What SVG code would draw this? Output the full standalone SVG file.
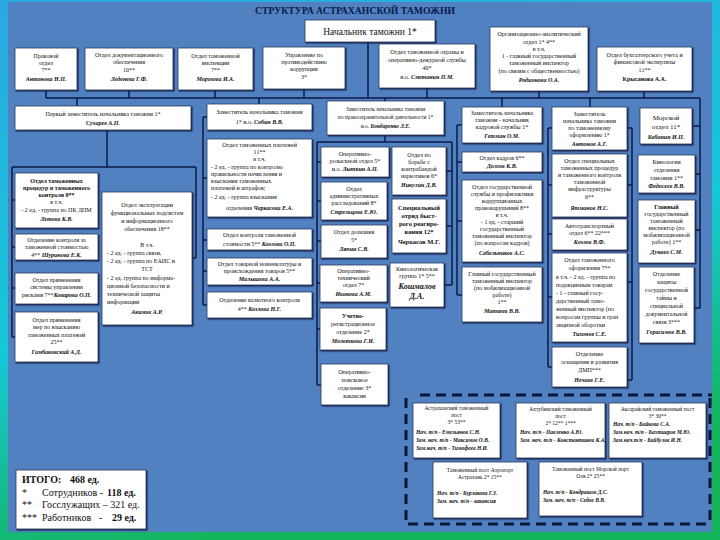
<svg xmlns="http://www.w3.org/2000/svg" width="720" height="540" viewBox="0 0 720 540">
<defs>
<linearGradient id="bg" x1="0" y1="0" x2="0.3" y2="1">
<stop offset="0" stop-color="#2aa8e0"/><stop offset="0.6" stop-color="#16c8d8"/><stop offset="1" stop-color="#14b45a"/>
</linearGradient>
<filter id="sh" x="-5%" y="-5%" width="115%" height="115%"><feDropShadow dx="1.2" dy="1.2" stdDeviation="0.4" flood-color="#0d1a45" flood-opacity="0.9"/></filter>
<style>
.b{fill:#fff;stroke:#26365e;stroke-width:0.8;filter:url(#sh)}
.t{font-family:"Liberation Serif","Times New Roman",serif;font-size:6px;fill:#111;text-anchor:middle}
.n{font-style:italic;font-weight:bold}
.l{text-anchor:start}
.s{font-size:5.5px}
.c{fill:none;stroke:#0d1a45;stroke-width:1.5}
.d{fill:none;stroke:#0a1638;stroke-width:3;stroke-dasharray:10 6}
</style>
</defs>
<rect x="0" y="0" width="720" height="540" fill="url(#bg)"/>
<rect x="8" y="2" width="704" height="530" fill="#5181c1"/>
<text x="355" y="14" font-family="'Liberation Serif',serif" font-size="10.5" font-weight="bold" fill="#0a1a4a" text-anchor="middle" textLength="200" lengthAdjust="spacingAndGlyphs">СТРУКТУРА АСТРАХАНСКОЙ ТАМОЖНИ</text>

<g id="connectors">
<path class="c" d="M368,42V98M46,98H700M46,90V98M129,90V98M215,90V98M304,89V98M427,88V98M539,91V98M644,91V98"/>
<path class="c" d="M77,98V106M259,98V104M385,98V101M502,98V107M590,98V107M700,98V308M692,126H700M695,174H700M695,230H700M694,308H700"/>
<path class="c" d="M107,130V167M12,167H196M12,167V337M12,200H15M12,247H15M12,288H15M12,337H15M196,167V258M192,258H196"/>
<path class="c" d="M203,117V305M203,117H207M203,178H207M203,240H207M203,271H207M203,305H207"/>
<path class="c" d="M385,135V142M317,142H452M317,142V385M317,162H321M317,201H321M317,241H321M317,283H320M317,329H320M317,385H321M452,142V285M446,171H452M446,226H452M444,285H452"/>
<path class="c" d="M457,125V295M457,125H462M457,162H462M457,221H462M457,295H462"/>
<path class="c" d="M548,128V367M548,128H552M548,185H552M548,234H552M548,297H552M548,367H552M632,128V380M627,128H632M627,185H632M627,282H632M627,380H632"/>
<path class="d" d="M420,395H712M406,398V524H707M710,398V524"/>
</g>

<g id="n0"><rect class="b" x="305" y="20" width="130" height="22"/><text class="t" x="370" y="35" style="font-size:9.5px">Начальник таможни  1*</text></g>

<g id="n1"><rect class="b" x="15" y="48" width="62" height="42"/><text class="t"><tspan x="46" y="58">Правовой</tspan><tspan x="46" y="65">отдел</tspan><tspan x="46" y="72">7**</tspan><tspan x="46" y="81" class="n">Антонова Н.П.</tspan></text></g>
<g id="n2"><rect class="b" x="85" y="48" width="88" height="42"/><text class="t"><tspan x="129" y="57">Отдел документационного</tspan><tspan x="129" y="64">обеспечения</tspan><tspan x="129" y="72">10**</tspan><tspan x="129" y="81" class="n">Леденева Г.Ф.</tspan></text></g>
<g id="n3"><rect class="b" x="178" y="48" width="75" height="42"/><text class="t"><tspan x="215.5" y="58">Отдел таможенной</tspan><tspan x="215.5" y="65">инспекции</tspan><tspan x="215.5" y="72">7**</tspan><tspan x="215.5" y="81" class="n">Морозова И.А.</tspan></text></g>
<g id="n4"><rect class="b" x="263" y="47" width="82" height="42"/><text class="t"><tspan x="304" y="57">Управление по</tspan><tspan x="304" y="64">противодействию</tspan><tspan x="304" y="71">коррупции</tspan><tspan x="304" y="79">3*</tspan></text></g>
<g id="n5"><rect class="b" x="379" y="44" width="96" height="44"/><text class="t"><tspan x="427" y="54">Отдел таможенной охраны и</tspan><tspan x="427" y="62">оперативно-дежурной службы</tspan><tspan x="427" y="70">40*</tspan><tspan x="427" y="79">и.о. <tspan class="n">Сметанин П.М.</tspan></tspan></text></g>
<g id="n6"><rect class="b" x="490" y="27" width="98" height="64"/><text class="t"><tspan x="539" y="36">Организационно-аналитический</tspan><tspan x="539" y="44">отдел  1* 4**</tspan><tspan x="539" y="51">в т.ч.</tspan><tspan x="539" y="58">1 - главный государственный</tspan><tspan x="539" y="65">таможенный инспектор</tspan><tspan x="539" y="73">(по связям с общественностью)</tspan><tspan x="539" y="82" class="n">Родионова О.А.</tspan></text></g>
<g id="n7"><rect class="b" x="597" y="47" width="95" height="44"/><text class="t"><tspan x="644.5" y="57">Отдел бухгалтерского учета и</tspan><tspan x="644.5" y="64">финансовой экспертизы</tspan><tspan x="644.5" y="72">11**</tspan><tspan x="644.5" y="81" style="font-weight:bold">Крысанова А.А.</tspan></text></g>

<g id="n8"><rect class="b" x="15" y="106" width="176" height="24"/><text class="t"><tspan x="103" y="116">Первый заместитель начальника таможни  1*</tspan><tspan x="103" y="125" class="n">Сухарев А.П.</tspan></text></g>
<g id="n9"><rect class="b" x="207" y="104" width="105" height="26"/><text class="t"><tspan x="259.5" y="114">Заместитель начальника таможни</tspan><tspan x="259.5" y="124">1*  и.о. <tspan class="n">Собин В.В.</tspan></tspan></text></g>
<g id="n10"><rect class="b" x="327" y="101" width="117" height="34"/><text class="t s"><tspan x="385.5" y="111">Заместитель начальника таможни</tspan><tspan x="385.5" y="119">по правоохранительной деятельности 1*</tspan><tspan x="385.5" y="128">и.о. <tspan class="n">Бондаренко Л.Е.</tspan></tspan></text></g>
<g id="n11"><rect class="b" x="462" y="107" width="80" height="36"/><text class="t"><tspan x="502" y="115">Заместитель начальника</tspan><tspan x="502" y="122">таможни - начальник</tspan><tspan x="502" y="129">кадровой службы  1*</tspan><tspan x="502" y="138" class="n">Гетман О.М.</tspan></text></g>
<g id="n12"><rect class="b" x="552" y="107" width="75" height="43"/><text class="t"><tspan x="589.5" y="116">Заместитель</tspan><tspan x="589.5" y="123">начальника таможни</tspan><tspan x="589.5" y="130">по таможенному</tspan><tspan x="589.5" y="137">оформлению  1*</tspan><tspan x="589.5" y="146" class="n">Антонов А.Г.</tspan></text></g>
<g id="n13"><rect class="b" x="640" y="108" width="52" height="36"/><text class="t" style="font-size:7px"><tspan x="666" y="120">Морской</tspan><tspan x="666" y="129">отдел  11*</tspan><tspan x="666" y="139" class="n" style="font-size:6px">Бабанин И.П.</tspan></text></g>

<g id="n14"><rect class="b" x="15" y="173" width="83" height="55"/><text class="t"><tspan x="56.5" y="183" style="font-weight:bold">Отдел таможенных</tspan><tspan x="56.5" y="190" style="font-weight:bold">процедур и таможенного</tspan><tspan x="56.5" y="197" style="font-weight:bold">контроля  8**</tspan><tspan x="56.5" y="204">в т.ч.</tspan><tspan x="56.5" y="212">- 2 ед. - группа по ПК ДПМ</tspan><tspan x="56.5" y="221" class="n">Летова К.В.</tspan></text></g>
<g id="n15"><rect class="b" x="15" y="234" width="83" height="26"/><text class="t"><tspan x="56.5" y="242">Отделение контроля за</tspan><tspan x="56.5" y="249">таможенной стоимостью</tspan><tspan x="56.5" y="257">4** <tspan class="n">Шуринова Е.К.</tspan></tspan></text></g>
<g id="n16"><rect class="b" x="15" y="273" width="83" height="31"/><text class="t"><tspan x="56.5" y="282">Отдел применения</tspan><tspan x="56.5" y="289">системы управления</tspan><tspan x="56.5" y="297">рисками  7**<tspan class="n">Коварова О.П.</tspan></tspan></text></g>
<g id="n17"><rect class="b" x="15" y="312" width="83" height="50"/><text class="t"><tspan x="56.5" y="322">Отдел применения</tspan><tspan x="56.5" y="329">мер по взысканию</tspan><tspan x="56.5" y="337">таможенных платежей</tspan><tspan x="56.5" y="344">25**</tspan><tspan x="56.5" y="354" class="n">Гамбаковский А.Д.</tspan></text></g>
<g id="n18"><rect class="b" x="102" y="192" width="90" height="133"/><text class="t"><tspan x="147" y="207">Отдел эксплуатации</tspan><tspan x="147" y="215">функциональных подсистем</tspan><tspan x="147" y="223">и информационного</tspan><tspan x="147" y="231">обеспечения  18**</tspan><tspan x="147" y="247">В т.ч.</tspan><tspan x="107" y="255" class="l">- 2 ед. - группа связи,</tspan><tspan x="107" y="263" class="l">- 2 ед. - группа по ЕАИС и</tspan><tspan x="147" y="271">ТСТ</tspan><tspan x="107" y="280" class="l">- 2 ед. группа по информа-</tspan><tspan x="107" y="288" class="l">ционной безопасности  и</tspan><tspan x="107" y="296" class="l">технической защиты</tspan><tspan x="107" y="304" class="l">информации</tspan><tspan x="147" y="314" class="n">Акимов А.Р.</tspan></text></g>

<g id="n19"><rect class="b" x="207" y="139" width="105" height="78"/><text class="t"><tspan x="259.5" y="147">Отдел таможенных платежей</tspan><tspan x="259.5" y="154">11**</tspan><tspan x="259.5" y="161">в т.ч.</tspan><tspan x="211" y="169" class="l">- 2 ед. - группа по контролю</tspan><tspan x="211" y="176" class="l">правильности начисления и</tspan><tspan x="211" y="183" class="l">взыскания таможенных</tspan><tspan x="211" y="190" class="l">платежей и штрафов;</tspan><tspan x="211" y="199" class="l">- 2 ед. - группа взыскания</tspan><tspan x="259.5" y="210">отделения     <tspan class="n">Черкасова Е.А.</tspan></tspan></text></g>
<g id="n20"><rect class="b" x="207" y="229" width="105" height="21"/><text class="t"><tspan x="259.5" y="237">Отдел контроля таможенной</tspan><tspan x="259.5" y="246">стоимости 5** <tspan class="n">Козлова О.П.</tspan></tspan></text></g>
<g id="n21"><rect class="b" x="207" y="258" width="105" height="27"/><text class="t"><tspan x="259.5" y="266">Отдел товарной номенклатуры и</tspan><tspan x="259.5" y="273">происхождения товаров 5**</tspan><tspan x="259.5" y="281" class="n">Малышева А.А.</tspan></text></g>
<g id="n22"><rect class="b" x="207" y="292" width="105" height="26"/><text class="t"><tspan x="259.5" y="302">Отделение валютного контроля</tspan><tspan x="259.5" y="311">4** <tspan class="n">Козлова Н.Г.</tspan></tspan></text></g>

<g id="n23"><rect class="b" x="321" y="147" width="68" height="30"/><text class="t"><tspan x="355" y="156">Оперативно-</tspan><tspan x="355" y="163">розыскной отдел 5*</tspan><tspan x="355" y="171">и.о. <tspan class="n">Лыткин А.П.</tspan></tspan></text></g>
<g id="n24"><rect class="b" x="392" y="147" width="54" height="48"/><text class="t"><tspan x="419" y="157">Отдел по</tspan><tspan x="419" y="164">борьбе с</tspan><tspan x="419" y="171">контрабандой</tspan><tspan x="419" y="178">наркотиков  6*</tspan><tspan x="419" y="187" class="n">Никулин Д.В.</tspan></text></g>
<g id="n25"><rect class="b" x="321" y="182" width="66" height="38"/><text class="t"><tspan x="354" y="191">Отдел</tspan><tspan x="354" y="198">административных</tspan><tspan x="354" y="205">расследований  8*</tspan><tspan x="354" y="214" class="n">Стрельцова Е.Ю.</tspan></text></g>
<g id="n26"><rect class="b" x="321" y="225" width="66" height="33"/><text class="t"><tspan x="354" y="234">Отдел дознания</tspan><tspan x="354" y="242">5*</tspan><tspan x="354" y="251" class="n">Ляпин С.В.</tspan></text></g>
<g id="n27"><rect class="b" x="392" y="199" width="54" height="54"/><text class="t" style="font-size:6.5px;font-weight:bold"><tspan x="419" y="210">Специальный</tspan><tspan x="419" y="218">отряд быст-</tspan><tspan x="419" y="226">рого реагиро-</tspan><tspan x="419" y="234">вания  12*</tspan><tspan x="419" y="244">Черкасов М.Г.</tspan></text></g>
<g id="n28"><rect class="b" x="320" y="265" width="67" height="37"/><text class="t"><tspan x="353.5" y="273">Оперативно-</tspan><tspan x="353.5" y="280">технический</tspan><tspan x="353.5" y="287">отдел  7*</tspan><tspan x="353.5" y="296" class="n">Иванова А.М.</tspan></text></g>
<g id="n29"><rect class="b" x="390" y="263" width="54" height="44"/><text class="t"><tspan x="417" y="271">Кинологическая</tspan><tspan x="417" y="278">группа 1* 5**</tspan><tspan x="417" y="289" class="n" style="font-size:8px">Кошмалов</tspan><tspan x="417" y="299" class="n" style="font-size:8px">Д.А.</tspan></text></g>
<g id="n30"><rect class="b" x="320" y="308" width="66" height="42"/><text class="t"><tspan x="353" y="318" style="font-weight:bold">Учетно-</tspan><tspan x="353" y="326">регистрационное</tspan><tspan x="353" y="334">отделение  2*</tspan><tspan x="353" y="343" class="n">Молоткова Г.И.</tspan></text></g>
<g id="n31"><rect class="b" x="321" y="364" width="67" height="41"/><text class="t"><tspan x="354.5" y="374">Оперативно-</tspan><tspan x="354.5" y="382">поисковое</tspan><tspan x="354.5" y="390">отделение  3*</tspan><tspan x="354.5" y="398">вакансия</tspan></text></g>

<g id="n32"><rect class="b" x="462" y="152" width="80" height="20"/><text class="t"><tspan x="502" y="160">Отдел кадров  6**</tspan><tspan x="502" y="168" class="n">Долгов К.В.</tspan></text></g>
<g id="n33"><rect class="b" x="462" y="180" width="80" height="82"/><text class="t"><tspan x="502" y="189">Отдел государственной</tspan><tspan x="502" y="196">службы и профилактики</tspan><tspan x="502" y="203">коррупционных</tspan><tspan x="502" y="210">правонарушений  8**</tspan><tspan x="502" y="217">в т.ч.</tspan><tspan x="502" y="224">- 1 ед. - старший</tspan><tspan x="502" y="231">государственный</tspan><tspan x="502" y="238">таможенный инспектор</tspan><tspan x="502" y="245">(по вопросам кадров)</tspan><tspan x="502" y="255" class="n">Сабельников А.С.</tspan></text></g>
<g id="n34"><rect class="b" x="462" y="267" width="80" height="55"/><text class="t"><tspan x="502" y="276">Главный государственный</tspan><tspan x="502" y="283">таможенный инспектор</tspan><tspan x="502" y="290">(по мобилизационной</tspan><tspan x="502" y="297">работе)</tspan><tspan x="502" y="304">1**</tspan><tspan x="502" y="313" class="n">Матвеев В.В.</tspan></text></g>

<g id="n35"><rect class="b" x="552" y="154" width="75" height="63"/><text class="t"><tspan x="589.5" y="163">Отдел специальных</tspan><tspan x="589.5" y="170">таможенных процедур</tspan><tspan x="589.5" y="177">и таможенного контроля</tspan><tspan x="589.5" y="184">таможенной</tspan><tspan x="589.5" y="191">инфраструктуры</tspan><tspan x="589.5" y="199">6**</tspan><tspan x="589.5" y="210" class="n">Ятманов Н.С.</tspan></text></g>
<g id="n36"><rect class="b" x="552" y="219" width="75" height="31"/><text class="t"><tspan x="589.5" y="228">Автотранспортный</tspan><tspan x="589.5" y="235">отдел  6** 22***</tspan><tspan x="589.5" y="244" class="n">Козлов В.Ф.</tspan></text></g>
<g id="n37"><rect class="b" x="552" y="253" width="75" height="89"/><text class="t"><tspan x="589.5" y="262">Отдел таможенного</tspan><tspan x="589.5" y="270">оформления  7**</tspan><tspan x="556" y="279" class="l">в т.ч. - 2 ед. - группа по</tspan><tspan x="556" y="287" class="l">подакцизным товарам</tspan><tspan x="556" y="295" class="l">- 1 - главный госу-</tspan><tspan x="556" y="303" class="l">дарственный тамо-</tspan><tspan x="556" y="311" class="l">женный инспектор (по</tspan><tspan x="556" y="319" class="l">вопросам группы и гран</tspan><tspan x="556" y="327" class="l">акцизной оборотки</tspan><tspan x="589.5" y="336" class="n">Тихонов С.Е.</tspan></text></g>
<g id="n38"><rect class="b" x="552" y="347" width="75" height="40"/><text class="t"><tspan x="589.5" y="356">Отделение</tspan><tspan x="589.5" y="364">оснащения и развития</tspan><tspan x="589.5" y="372">ДМП***</tspan><tspan x="589.5" y="382" class="n">Нечаев Г.Е.</tspan></text></g>

<g id="n39"><rect class="b" x="638" y="155" width="57" height="38"/><text class="t"><tspan x="666.5" y="164">Кинологии</tspan><tspan x="666.5" y="172">отделения</tspan><tspan x="666.5" y="180">таможни  1**</tspan><tspan x="666.5" y="188" class="n">Федосеев В.В.</tspan></text></g>
<g id="n40"><rect class="b" x="638" y="200" width="57" height="63"/><text class="t"><tspan x="666.5" y="209" style="font-weight:bold">Главный</tspan><tspan x="666.5" y="216">государственный</tspan><tspan x="666.5" y="223">таможенный</tspan><tspan x="666.5" y="230">инспектор (по</tspan><tspan x="666.5" y="237">мобилизационной</tspan><tspan x="666.5" y="244">работе)  1**</tspan><tspan x="666.5" y="254" class="n">Дунаев С.М.</tspan></text></g>
<g id="n41"><rect class="b" x="639" y="267" width="55" height="76"/><text class="t"><tspan x="666.5" y="276">Отделение</tspan><tspan x="666.5" y="284">защиты</tspan><tspan x="666.5" y="292">государственной</tspan><tspan x="666.5" y="300">тайны и</tspan><tspan x="666.5" y="308">специальной</tspan><tspan x="666.5" y="316">документальной</tspan><tspan x="666.5" y="324">связи  3***</tspan><tspan x="666.5" y="334" class="n">Герасимов В.В.</tspan></text></g>

<g id="n42"><rect class="b" x="413" y="403" width="87" height="55"/><text class="t s"><tspan x="456.5" y="410">Астраханский таможенный</tspan><tspan x="456.5" y="417">пост</tspan><tspan x="456.5" y="424">3*  53**</tspan><tspan x="416" y="434" class="l n">Нач. т/п - Емельянов С.Н.</tspan><tspan x="416" y="442" class="l n">Зам. нач. т/п - Максимов О.В.</tspan><tspan x="416" y="450" class="l n">Зам.нач. т/п - Тимофеев Н.И.</tspan></text></g>
<g id="n43"><rect class="b" x="516" y="403" width="89" height="55"/><text class="t s"><tspan x="560.5" y="411">Ахтубинский таможенный</tspan><tspan x="560.5" y="418">пост</tspan><tspan x="560.5" y="425">2* 12** 1***</tspan><tspan x="520" y="434" class="l n">Нач. т/п - Павленко А.Ю.</tspan><tspan x="520" y="442" class="l n">Зам. нач. т/п - Константинов К.А.</tspan></text></g>
<g id="n44"><rect class="b" x="609" y="403" width="97" height="55"/><text class="t s"><tspan x="657.5" y="411">Аксарайский таможенный пост</tspan><tspan x="657.5" y="418">3*  30**</tspan><tspan x="613" y="426" class="l n">Нач. т/п -  Байкова С.А.</tspan><tspan x="613" y="434" class="l n">Зам.нач. т/п - Бахтиаров М.Ю.</tspan><tspan x="613" y="442" class="l n">Зам.нач.т/п - Байбулов И.Н.</tspan></text></g>
<g id="n45"><rect class="b" x="433" y="462" width="94" height="56"/><text class="t s"><tspan x="480" y="472">Таможенный пост Аэропорт</tspan><tspan x="480" y="479">Астрахань 2* 15**</tspan><tspan x="437" y="495" class="l n">Нач. т/п - Бурлакова Г.З.</tspan><tspan x="437" y="503" class="l n">Зам. нач. т/п - вакансия</tspan></text></g>
<g id="n46"><rect class="b" x="539" y="462" width="103" height="54"/><text class="t s"><tspan x="590.5" y="471">Таможенный пост  Морской порт</tspan><tspan x="590.5" y="478">Оля 2* 25**</tspan><tspan x="543" y="494" class="l n">Нач. т/п - Кондрашов Д.С.</tspan><tspan x="543" y="502" class="l n">Зам. нач. т/п - Седов В.В.</tspan></text></g>

<g id="n47"><rect class="b" x="16" y="470" width="130" height="59"/><text class="t l" style="font-size:10px"><tspan x="22" y="483" font-weight="bold">ИТОГО:</tspan><tspan x="70" y="483" font-weight="bold">468 ед.</tspan><tspan x="22" y="496">*</tspan><tspan x="42" y="496">Сотрудников -</tspan><tspan x="107" y="496" font-weight="bold">118 ед.</tspan><tspan x="22" y="508">**</tspan><tspan x="42" y="508">Госслужащих – 321 ед.</tspan><tspan x="22" y="521">***</tspan><tspan x="42" y="521">Работников</tspan><tspan x="99" y="521">-</tspan><tspan x="112" y="521" font-weight="bold">29 ед.</tspan></text></g>
</svg>
